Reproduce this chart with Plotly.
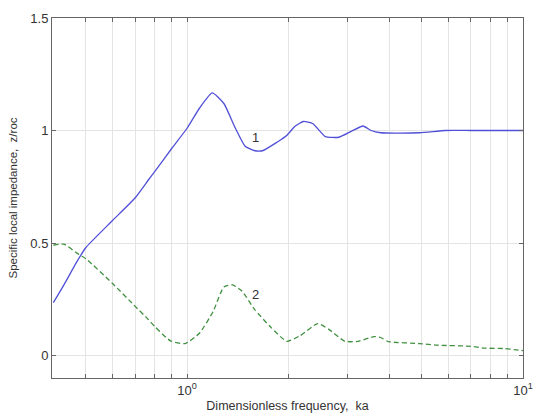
import plotly.graph_objects as go

# Curve 1 (solid blue)
ka1 = [0.4, 0.43, 0.47, 0.5, 0.6, 0.7, 0.767, 0.8, 0.9, 1.0, 1.09, 1.188, 1.287, 1.393, 1.489,
       1.592, 1.678, 1.853, 1.98, 2.10, 2.22, 2.37, 2.58, 2.83, 3.09, 3.34, 3.53, 3.77,
       4.92, 5.87, 7.0, 8.5, 10.0]
z1 = [0.235, 0.314, 0.417, 0.48, 0.60, 0.70, 0.78, 0.816, 0.92, 1.01, 1.10, 1.167, 1.12, 1.01, 0.93,
      0.91, 0.91, 0.948, 0.978, 1.02, 1.04, 1.03, 0.973, 0.97, 0.997, 1.02, 1.0, 0.99,
      0.99, 1.0, 1.0, 1.0, 1.0]

# Curve 2 (dashed green)
ka2 = [0.4, 0.43, 0.47, 0.5, 0.6, 0.694, 0.767, 0.8, 0.893, 0.987, 1.09, 1.196, 1.287,
       1.366, 1.46, 1.59, 1.78, 1.98, 2.17, 2.45, 2.65, 2.95, 3.23, 3.6, 3.77, 3.97,
       4.92, 5.54, 6.99, 7.66, 8.76, 9.7, 10.0]
z2 = [0.49, 0.495, 0.455, 0.43, 0.32, 0.225, 0.16, 0.13, 0.065, 0.053, 0.10, 0.196, 0.305,
      0.314, 0.285, 0.204, 0.124, 0.063, 0.088, 0.142, 0.115, 0.063, 0.063, 0.084, 0.08,
      0.062, 0.053, 0.046, 0.041, 0.033, 0.031, 0.024, 0.022]

x_grid = [0.5, 0.6, 0.7, 0.8, 0.9, 1, 2, 3, 4, 5, 6, 7, 8, 9, 10]
x_text = ["", "", "", "", "", "10<sup>0</sup>", "", "", "", "", "", "", "", "", "10<sup>1</sup>"]
y_ticks = [0, 0.5, 1, 1.5]
y_text = ["0", "0.5", "1", "1.5"]

fig = go.Figure()
fig.add_trace(go.Scatter(x=ka1, y=z1, mode="lines",
                         line=dict(color="rgb(80,80,215)", width=1.3, shape="spline", smoothing=0.5),
                         showlegend=False))
fig.add_trace(go.Scatter(x=ka2, y=z2, mode="lines",
                         line=dict(color="rgb(65,145,65)", width=1.3, dash="5px,3px",
                                   shape="spline", smoothing=0.5),
                         showlegend=False))

fig.add_annotation(x=0.205, y=0.97, xref="x", yref="y", text="1", showarrow=False,
                   font=dict(size=13, color="#333"))
fig.add_annotation(x=0.205, y=0.27, xref="x", yref="y", text="2", showarrow=False,
                   font=dict(size=13, color="#333"))

fig.update_layout(
    width=541, height=420,
    margin=dict(l=52, r=8, t=18, b=42),
    paper_bgcolor="white", plot_bgcolor="white",
    font=dict(family="Liberation Sans, Arial, sans-serif", color="#333"),
    xaxis=dict(type="log", range=[-0.402, 1.0], tickvals=x_grid, ticktext=x_text,
               showgrid=True, gridcolor="#e4e4e4", gridwidth=1,
               ticks="inside", ticklen=4, tickcolor="#666",
               showline=True, linecolor="#666", linewidth=1, mirror="allticks",
               tickfont=dict(size=13), ticklabeloverflow="allow",
               title=dict(text="Dimensionless frequency,  ka", font=dict(size=12.5), standoff=4),
               zeroline=False),
    yaxis=dict(range=[-0.1, 1.5], tickvals=y_ticks, ticktext=y_text,
               showgrid=True, gridcolor="#e4e4e4", gridwidth=1,
               ticks="inside", ticklen=4, tickcolor="#666",
               showline=True, linecolor="#666", linewidth=1, mirror="allticks",
               tickfont=dict(size=13),
               title=dict(text="Specific local impedance,  z/roc", font=dict(size=11.5), standoff=10),
               zeroline=False),
)

fig.write_html("out.html")
